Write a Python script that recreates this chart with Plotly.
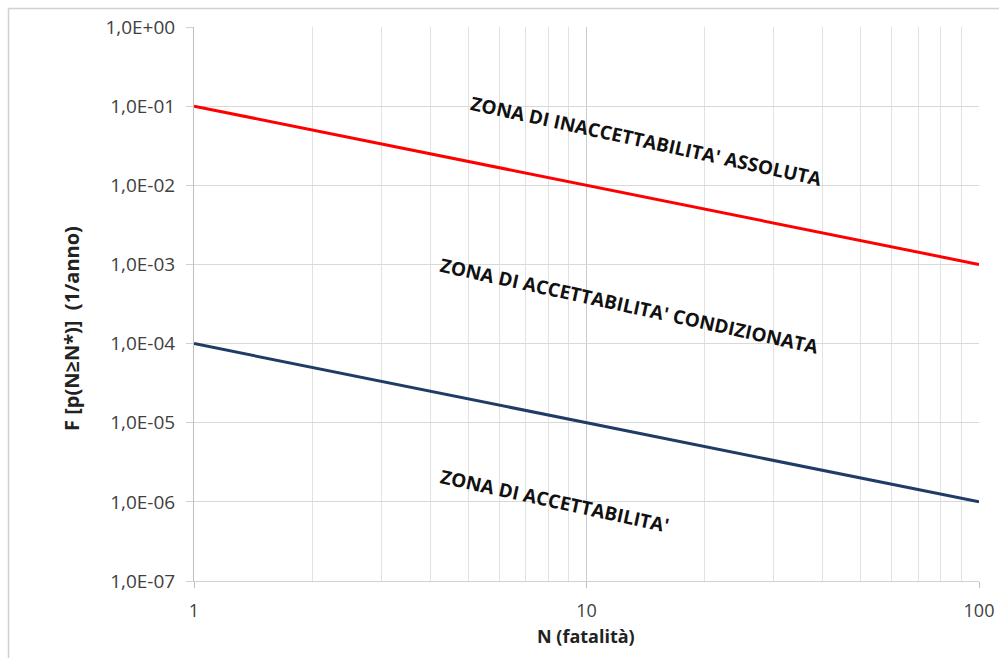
import math
import plotly.graph_objects as go

# ---- data ----
n_values = [1, 100]
limit_upper = [1e-1, 1e-3]   # red line
limit_lower = [1e-4, 1e-6]   # dark blue line

y_tickvals = [1e-7, 1e-6, 1e-5, 1e-4, 1e-3, 1e-2, 1e-1, 1]
y_ticktext = ["1,0E-07", "1,0E-06", "1,0E-05", "1,0E-04",
              "1,0E-03", "1,0E-02", "1,0E-01", "1,0E+00"]
x_tickvals = [1, 10, 100]
x_ticktext = ["1", "10", "100"]
x_minor = [2, 3, 4, 5, 6, 7, 8, 9, 20, 30, 40, 50, 60, 70, 80, 90]

zone_labels = ["ZONA DI INACCETTABILITA' ASSOLUTA",
               "ZONA DI ACCETTABILITA' CONDIZIONATA",
               "ZONA DI ACCETTABILITA'"]
zone_x = [14.2, 12.9, 8.3]
zone_y = [0.0363, 2.98e-4, 1.02e-6]

W, H = 999, 658
L, R, T, B = 194, 20, 27, 77
pw, ph = W - L - R, H - T - B

def px(xabs):
    return (xabs - L) / pw

def py(yabs):
    return (H - B - yabs) / ph

font_family = "Open Sans, Liberation Sans, sans-serif"

fig = go.Figure()
fig.add_trace(go.Scatter(x=n_values, y=limit_upper, mode="lines",
                         line=dict(color="#ff0000", width=3), showlegend=False))
fig.add_trace(go.Scatter(x=n_values, y=limit_lower, mode="lines",
                         line=dict(color="#1f3b66", width=3), showlegend=False))

for txt, xv, yv in zip(zone_labels, zone_x, zone_y):
    fig.add_annotation(x=math.log10(xv), y=math.log10(yv),
                       xref="x", yref="y", text="<b>%s</b>" % txt, showarrow=False,
                       xanchor="center", yanchor="middle",
                       textangle=12.3, font=dict(family=font_family, size=19, color="#111111"))

# axis titles
fig.add_annotation(x=px(71), y=py(329), xref="paper", yref="paper",
                   xanchor="center", yanchor="middle",
                   text="<b>F [p(N≥N*)]  (1/anno)</b>", showarrow=False, textangle=-90,
                   font=dict(family=font_family, size=20, color="#222222"))
fig.add_annotation(x=px(586), y=py(636), xref="paper", yref="paper",
                   xanchor="center", yanchor="middle",
                   text="<b>N (fatalità)</b>", showarrow=False,
                   font=dict(family=font_family, size=18, color="#222222"))

# outer chart frame (left and top edges visible)
fig.add_shape(type="line", xref="paper", yref="paper",
              x0=px(8.5), x1=px(1010), y0=py(8.5), y1=py(8.5),
              line=dict(color="#d0d0d0", width=1.5))
fig.add_shape(type="line", xref="paper", yref="paper",
              x0=px(8.5), x1=px(8.5), y0=py(8.5), y1=py(670),
              line=dict(color="#d0d0d0", width=1.5))

fig.update_xaxes(type="log", range=[0, 2], tickvals=x_tickvals, ticktext=x_ticktext,
                 showgrid=True, gridcolor="#cccccc", gridwidth=1,
                 minor=dict(tickvals=x_minor, showgrid=True, gridcolor="#e2e2e2", gridwidth=1,
                            ticks=""),
                 ticks="outside", ticklen=6, tickcolor="#bfbfbf",
                 ticklabelstandoff=7, automargin=False, ticklabeloverflow="allow",
                 showline=True, linecolor="#d0d0d0", linewidth=1, zeroline=False,
                 tickfont=dict(family=font_family, size=18, color="#404040"))
fig.update_yaxes(type="log", range=[-7, 0], tickvals=y_tickvals, ticktext=y_ticktext,
                 showgrid=True, gridcolor="#d9d9d9", gridwidth=1,
                 ticks="outside", ticklen=7, tickcolor="#d0d0d0",
                 ticklabelstandoff=7, automargin=False,
                 showline=True, linecolor="#bfbfbf", linewidth=1, zeroline=False,
                 tickfont=dict(family=font_family, size=19, color="#404040"))

fig.update_layout(width=W, height=H, margin=dict(l=L, r=R, t=T, b=B, pad=0, autoexpand=False),
                  plot_bgcolor="white", paper_bgcolor="white", showlegend=False)

fig.write_html("out.html", config={"displayModeBar": False},
               post_script="document.body.style.margin='0';document.body.style.overflow='hidden';")
